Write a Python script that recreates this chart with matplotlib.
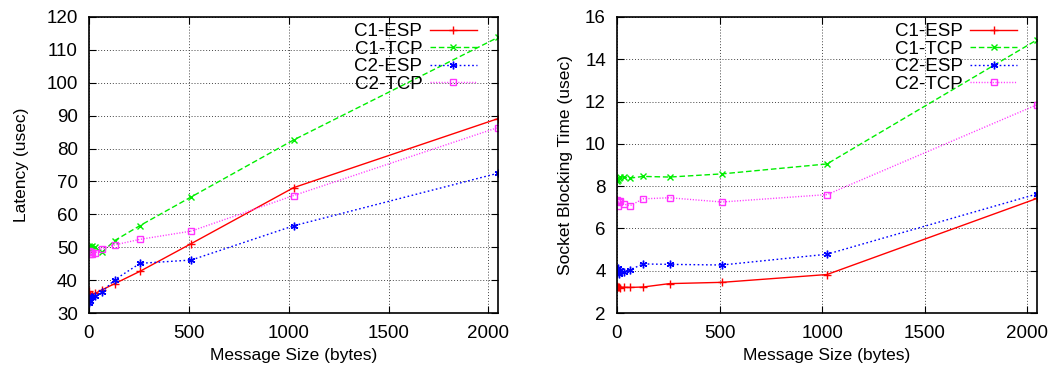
import matplotlib
matplotlib.use("Agg")
import matplotlib.pyplot as plt
from matplotlib.ticker import MultipleLocator

plt.rcParams['font.family'] = ['Liberation Sans', 'DejaVu Sans']

sizes = [1, 2, 4, 8, 16, 32, 64, 128, 256, 512, 1024, 2048]
series_names = ["C1-ESP", "C1-TCP", "C2-ESP", "C2-TCP"]

lat_c1_esp = [36.8, 35.2, 35.5, 35.3, 35.6, 36.0, 37.0, 38.9, 42.7, 51.1, 68.1, 89.1]
lat_c1_tcp = [50.5, 49.5, 50.0, 49.0, 50.3, 50.0, 48.4, 52.0, 56.6, 65.3, 82.6, 113.8]
lat_c2_esp = [33.0, 34.5, 33.5, 34.8, 35.0, 35.2, 36.3, 40.1, 45.1, 46.1, 56.5, 72.5]
lat_c2_tcp = [48.5, 49.0, 48.0, 48.5, 47.8, 48.3, 49.6, 50.7, 52.4, 54.9, 65.7, 86.4]

blk_c1_esp = [3.25, 3.28, 3.22, 3.24, 3.20, 3.22, 3.21, 3.23, 3.39, 3.45, 3.82, 7.42]
blk_c1_tcp = [8.25, 8.35, 8.30, 8.40, 8.42, 8.43, 8.38, 8.46, 8.43, 8.58, 9.05, 14.92]
blk_c2_esp = [3.90, 4.10, 4.15, 3.85, 4.05, 3.95, 4.05, 4.32, 4.30, 4.27, 4.78, 7.63]
blk_c2_tcp = [7.30, 7.35, 7.05, 7.25, 7.28, 7.15, 7.08, 7.40, 7.45, 7.25, 7.60, 11.85]

styles = [
    dict(color='#ff0000', linestyle='-', marker='+', markersize=6, markeredgewidth=1.0),
    dict(color='#00ee00', linestyle=(0, (4, 2)), marker='x', markersize=5, markeredgewidth=1.0),
    dict(color='#0000ff', linestyle=(0, (1.2, 1.8)), marker=(6, 2, 0), markersize=5.5, markeredgewidth=1.0),
    dict(color='#ff33ff', linestyle=(0, (0.8, 1.2)), marker='s', markersize=5, markeredgewidth=1.0,
         markerfacecolor='none'),
]

fig = plt.figure(figsize=(10.5, 3.67), dpi=100)
ax1 = fig.add_axes([89/1050, 54/367, 409/1050, 296/367])
ax2 = fig.add_axes([617/1050, 54/367, 420/1050, 296/367])


def draw(ax, data, ylim, ystep, ylabel, ylabelpad, legx):
    for name, vals, st in zip(series_names, data, styles):
        ax.plot(sizes, vals, label=name, linewidth=1.0, **st)
    ax.set_xlim(0, 2048)
    ax.set_ylim(*ylim)
    ax.xaxis.set_major_locator(MultipleLocator(500))
    ax.yaxis.set_major_locator(MultipleLocator(ystep))
    ax.grid(True, color='#444444', linestyle=(0, (1, 2)), linewidth=0.7)
    ax.tick_params(direction='in', top=True, right=True, length=5, labelsize=13.5)
    ax.tick_params(axis='y', pad=8)
    ax.tick_params(axis='x', pad=9)
    for s in ax.spines.values():
        s.set_linewidth(1.2)
    ax.set_xlabel("Message Size (bytes)", fontsize=12.5, labelpad=4)
    ax.set_ylabel(ylabel, fontsize=12.5, labelpad=ylabelpad)
    leg = ax.legend(loc='upper right', bbox_to_anchor=(legx, 1.024), frameon=False,
                    markerfirst=False, fontsize=13.5, handlelength=2.5, labelspacing=0.02,
                    handletextpad=0.4, borderpad=0.2, numpoints=1)
    for t in leg.get_texts():
        t.set_ha('right')


draw(ax1, [lat_c1_esp, lat_c1_tcp, lat_c2_esp, lat_c2_tcp], (30, 120), 10,
     "Latency (usec)", 12.5, 0.980)
draw(ax2, [blk_c1_esp, blk_c1_tcp, blk_c2_esp, blk_c2_tcp], (2, 16), 2,
     "Socket Blocking Time (usec)", 9, 0.984)

fig.savefig("out.png", dpi=100)
